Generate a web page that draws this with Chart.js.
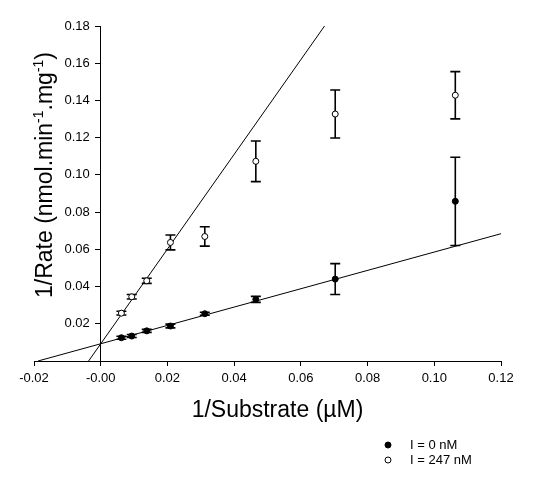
<!DOCTYPE html>
<html>
<head>
<meta charset="utf-8">
<script src="https://cdn.jsdelivr.net/npm/chart.js@4/dist/chart.umd.min.js"></script>
<style>
  html, body { margin: 0; padding: 0; background: #ffffff; }
  #wrap { width: 533px; height: 479px; }
</style>
</head>
<body>
<div id="wrap"><canvas id="c" width="533" height="479"></canvas></div>
<script>
// ---- data ----
const substrateInv = [0.0062, 0.0093, 0.0138, 0.0209, 0.0312, 0.0465, 0.0703, 0.1063];
const rateInvI0 = [0.0125, 0.0134, 0.0162, 0.0188, 0.0254, 0.0331, 0.0440, 0.0858];
const errI0 = [0.0008, 0.0008, 0.0008, 0.0010, 0.0008, 0.0016, 0.0083, 0.0237];
const rateInvI247 = [0.0257, 0.0345, 0.0431, 0.0637, 0.0669, 0.1073, 0.1327, 0.1428];
const errI247 = [0.0010, 0.0012, 0.0014, 0.0040, 0.0052, 0.0109, 0.0129, 0.0127];
const fitI0X = [-0.0188, 0.12];
const fitI0Y = [0, 0.0684];
const fitI247X = [-0.00363, 0.0671];
const fitI247Y = [0, 0.18];
const legendLabels = ['I = 0 nM', 'I = 247 nM'];
const xTitle = '1/Substrate (\u00b5M)';
const yTitleParts = [['1/Rate (nmol.min', false], ['-1', true], ['.mg', false], ['-1', true], [')', false]];

const FONT = '"Liberation Sans", Arial, sans-serif';
const TICK_SIZE = 13;
const fmt = (v) => v.toFixed(2);
const toPts = (xs, ys) => xs.map((x, i) => ({x: x, y: ys[i]}));

const errorBarPlugin = {
  id: 'errorBars',
  beforeDatasetsDraw(chart) {
    const ctx = chart.ctx;
    const xs = chart.scales.x, ys = chart.scales.y;
    const sets = [[rateInvI0, errI0], [rateInvI247, errI247]];
    ctx.save();
    ctx.strokeStyle = '#000';
    ctx.lineWidth = 1.6;
    sets.forEach(([vals, errs]) => {
      vals.forEach((v, i) => {
        const px = xs.getPixelForValue(substrateInv[i]);
        const top = ys.getPixelForValue(v + errs[i]);
        const bot = ys.getPixelForValue(v - errs[i]);
        ctx.beginPath();
        ctx.moveTo(px, top); ctx.lineTo(px, bot);
        ctx.moveTo(px - 5, top); ctx.lineTo(px + 5, top);
        ctx.moveTo(px - 5, bot); ctx.lineTo(px + 5, bot);
        ctx.stroke();
      });
    });
    ctx.restore();
  }
};

const titlesPlugin = {
  id: 'titles',
  afterDraw(chart) {
    const ctx = chart.ctx;
    const xs = chart.scales.x, ys = chart.scales.y;
    ctx.save();
    ctx.fillStyle = '#000';

    // y tick labels (placed left of the y axis, which sits at x = 0)
    const axisX = xs.getPixelForValue(0);
    ctx.font = TICK_SIZE + 'px ' + FONT;
    ctx.textAlign = 'right';
    ctx.textBaseline = 'middle';
    ys.ticks.forEach((t) => {
      if (Math.abs(t.value) < 1e-9) return;
      ctx.fillText(fmt(t.value), axisX - 11, ys.getPixelForValue(t.value));
    });

    // x title
    ctx.font = '23px ' + FONT;
    ctx.textAlign = 'center';
    ctx.textBaseline = 'middle';
    ctx.fillText(xTitle, 277.5, 411);

    // y title (rotated, with superscripts)
    const big = '23px ' + FONT, small = '14px ' + FONT;
    let total = 0;
    yTitleParts.forEach(([t, sup]) => { ctx.font = sup ? small : big; total += ctx.measureText(t).width; });
    ctx.translate(52, 175);
    ctx.rotate(-Math.PI / 2);
    ctx.textAlign = 'left';
    ctx.textBaseline = 'alphabetic';
    let xpos = -total / 2;
    yTitleParts.forEach(([t, sup]) => {
      ctx.font = sup ? small : big;
      ctx.fillText(t, xpos, sup ? -9 : 0);
      xpos += ctx.measureText(t).width;
    });
    ctx.restore();

    // legend
    ctx.save();
    const lx = 388, ly = [445, 460];
    ctx.font = '13px ' + FONT;
    ctx.textBaseline = 'middle';
    ctx.textAlign = 'left';
    ctx.lineWidth = 1;
    ctx.strokeStyle = '#000';
    legendLabels.forEach((lab, i) => {
      ctx.beginPath();
      ctx.arc(lx, ly[i], 3, 0, Math.PI * 2);
      ctx.fillStyle = i === 0 ? '#000' : '#fff';
      ctx.fill();
      ctx.stroke();
      ctx.fillStyle = '#000';
      ctx.fillText(lab, 410, ly[i]);
    });
    ctx.restore();
  }
};

new Chart(document.getElementById('c'), {
  type: 'scatter',
  data: {
    datasets: [
      {
        label: 'fit I0', data: toPts(fitI0X, fitI0Y), showLine: true,
        borderColor: '#000', borderWidth: 1, pointRadius: 0, clip: false, order: 3
      },
      {
        label: 'fit I247', data: toPts(fitI247X, fitI247Y), showLine: true,
        borderColor: '#000', borderWidth: 1, pointRadius: 0, clip: false, order: 3
      },
      {
        label: legendLabels[0], data: toPts(substrateInv, rateInvI0),
        pointRadius: 3, pointBackgroundColor: '#000', pointBorderColor: '#000', pointBorderWidth: 1, order: 1
      },
      {
        label: legendLabels[1], data: toPts(substrateInv, rateInvI247),
        pointRadius: 3, pointBackgroundColor: '#fff', pointBorderColor: '#000', pointBorderWidth: 1, order: 1
      }
    ]
  },
  options: {
    responsive: false,
    animation: false,
    layout: { padding: { left: 34, right: 32, top: 26, bottom: 0 } },
    plugins: { legend: { display: false }, tooltip: { enabled: false } },
    scales: {
      x: {
        type: 'linear', position: 'bottom', min: -0.02, max: 0.12,
        afterFit: (s) => { s.height = 118; },
        ticks: {
          stepSize: 0.02, padding: 5, color: '#000',
          font: { family: FONT, size: TICK_SIZE },
          maxRotation: 0,
          callback: (v) => fmt(v)
        },
        grid: { drawOnChartArea: false, drawTicks: true, tickLength: 5, tickColor: '#000', tickWidth: 1 },
        border: { display: true, color: '#000', width: 1 }
      },
      y: {
        type: 'linear', position: { x: 0 }, min: 0, max: 0.18,
        ticks: {
          display: false, stepSize: 0.02,
          font: { family: FONT, size: TICK_SIZE }
        },
        grid: { drawOnChartArea: false, drawTicks: true, tickLength: 5, tickColor: '#000', tickWidth: 1 },
        border: { display: true, color: '#000', width: 1 }
      }
    }
  },
  plugins: [errorBarPlugin, titlesPlugin]
});
</script>
</body>
</html>
